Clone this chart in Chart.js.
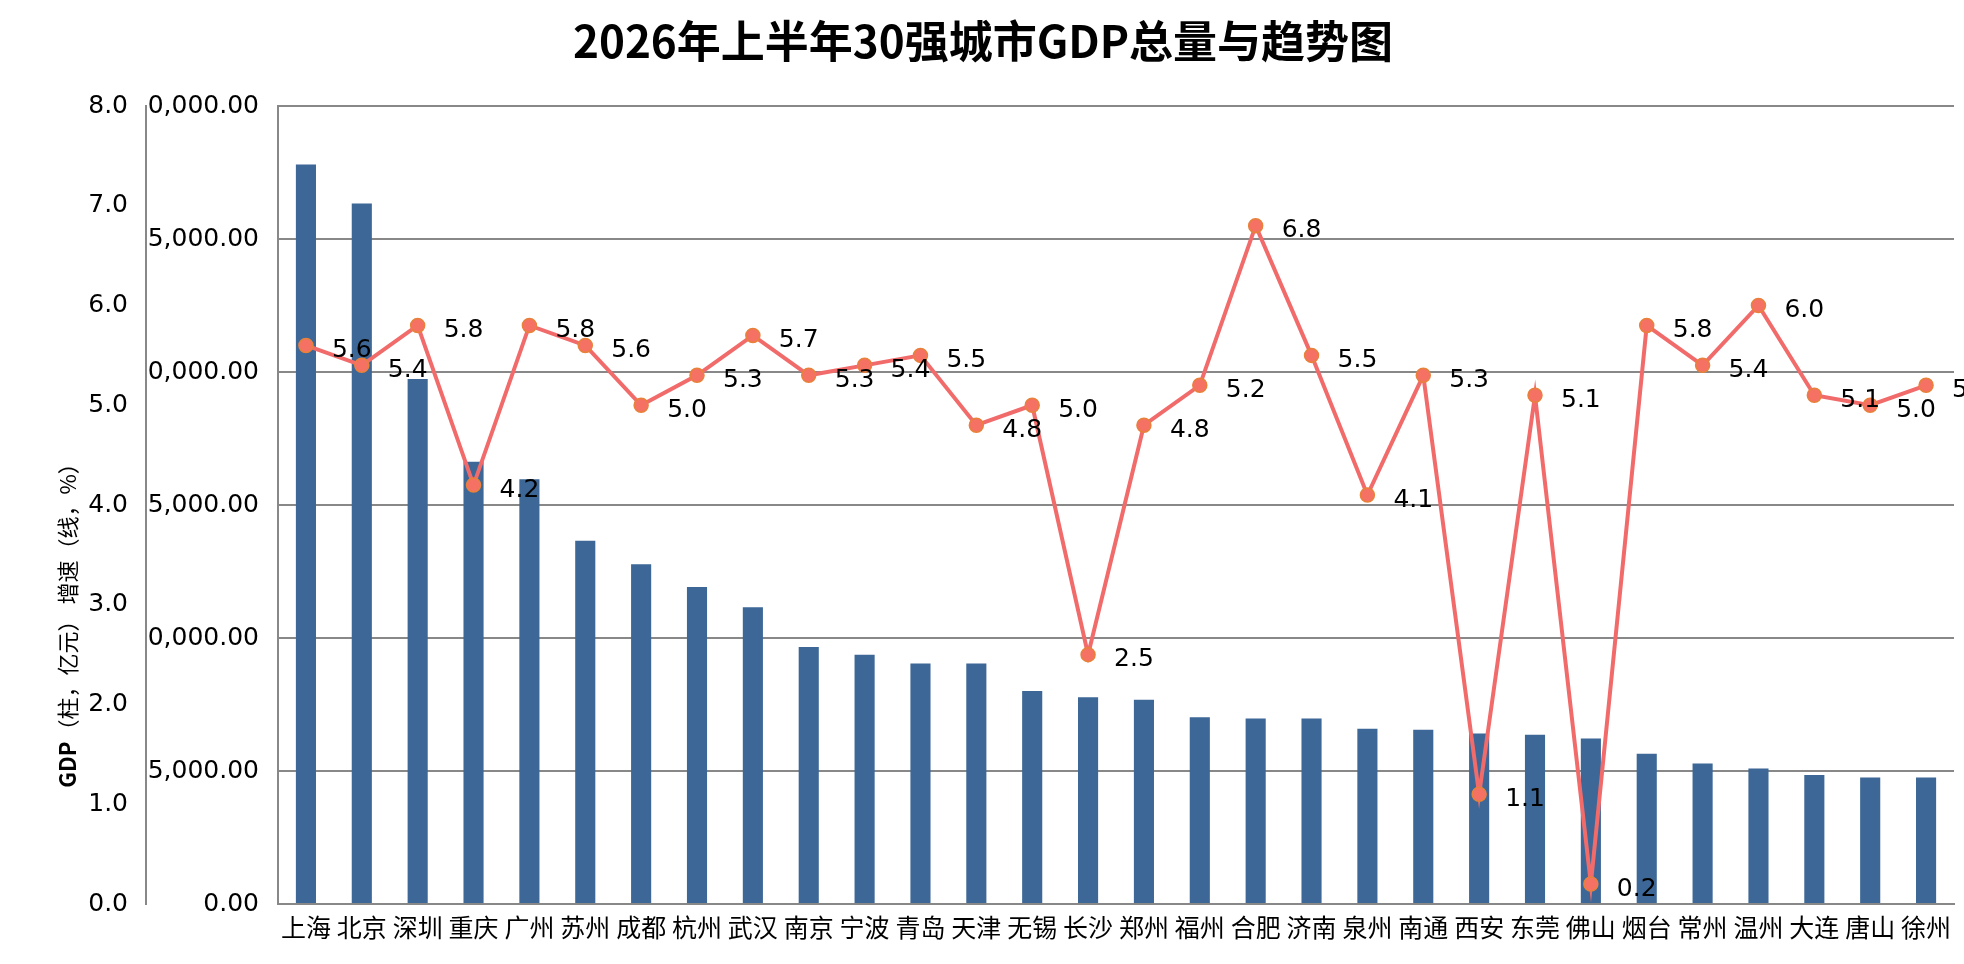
<!DOCTYPE html>
<html><head><meta charset="utf-8">
<script src="https://cdn.jsdelivr.net/npm/chart.js@4"></script>
<style>html,body{margin:0;padding:0;background:#fff}#wrap{width:1964px;height:964px}</style>
</head><body><div id="wrap"><canvas id="c"></canvas></div>
<script>
const cities=['上海','北京','深圳','重庆','广州','苏州','成都','杭州','武汉','南京','宁波','青岛','天津','无锡','长沙','郑州','福州','合肥','济南','泉州','南通','西安','东莞','佛山','烟台','常州','温州','大连','唐山','徐州'];
const gdp=[27800,26330,19740,16630,15970,13660,12770,11920,11160,9660,9370,9040,9040,8010,7770,7680,7020,6970,6970,6590,6550,6410,6360,6220,5650,5280,5090,4850,4760,4760];
const growth=[5.6,5.4,5.8,4.2,5.8,5.6,5.0,5.3,5.7,5.3,5.4,5.5,4.8,5.0,2.5,4.8,5.2,6.8,5.5,4.1,5.3,1.1,5.1,0.2,5.8,5.4,6.0,5.1,5.0,5.2];
const titleText='2026年上半年30强城市GDP总量与趋势图';
const axisTitleBold='GDP';
const axisTitleRest='（柱，亿元） 增速（线，%）';
const FONT='"DejaVu Sans", sans-serif';
const CJK='"Noto Sans CJK SC", sans-serif';
const extra={id:'extra',afterDraw(ch){
  const ctx=ch.ctx;ctx.save();
  ctx.fillStyle='#000';ctx.font='bold 44px '+CJK;ctx.textAlign='center';ctx.textBaseline='middle';
  ctx.fillText(titleText,983,41);
  ctx.translate(68,620);ctx.rotate(-Math.PI/2);
  ctx.font='bold 22px '+CJK;const w1=ctx.measureText(axisTitleBold).width;
  ctx.font='22px '+CJK;const w2=ctx.measureText(axisTitleRest).width;
  ctx.textAlign='left';let x0=-(w1+w2)/2;
  ctx.font='bold 22px '+CJK;ctx.fillText(axisTitleBold,x0,0);
  ctx.font='22px '+CJK;ctx.fillText(axisTitleRest,x0+w1,0);
  ctx.restore();
  ctx.save();ctx.font='25px '+FONT;ctx.fillStyle='#000';ctx.textAlign='left';ctx.textBaseline='middle';
  const m=ch.getDatasetMeta(0);
  m.data.forEach((p,i)=>ctx.fillText(growth[i].toFixed(1),p.x+26,p.y+5));
  ctx.restore();
}};
new Chart(document.getElementById('c'),{
  data:{labels:cities,datasets:[
    {type:'line',label:'增速',data:growth,yAxisID:'y1',borderColor:'#F26B6B',borderWidth:4,pointRadius:7,pointHoverRadius:7,pointBackgroundColor:'#F47164',pointBorderColor:'#E8813A',pointBorderWidth:1.5,tension:0,order:0},
    {type:'bar',label:'GDP',data:gdp,yAxisID:'y',backgroundColor:'#3C6796',barPercentage:0.36,categoryPercentage:1,order:1}
  ]},
  options:{responsive:true,maintainAspectRatio:false,animation:false,
    layout:{padding:{top:106,left:0,right:10,bottom:14}},
    plugins:{legend:{display:false},title:{display:false},tooltip:{enabled:false}},
    scales:{
      x:{grid:{display:false,drawTicks:false},border:{display:true,color:'#888',width:2},ticks:{color:'#000',font:{family:CJK,size:25},maxRotation:0,autoSkip:false,padding:8}},
      y:{position:'left',weight:0,min:0,max:30000,afterFit(s){s.width=132},ticks:{stepSize:5000,color:'#000',font:{family:FONT,size:25},padding:19,callback:v=>v.toLocaleString('en-US',{minimumFractionDigits:2,maximumFractionDigits:2})},grid:{color:'#888',lineWidth:2,drawTicks:false},border:{display:true,color:'#888',width:2}},
      y1:{position:'left',weight:1,min:0,max:8,afterFit(s){s.width=146},ticks:{stepSize:1,color:'#000',font:{family:FONT,size:25},padding:18,callback:v=>v.toFixed(1)},grid:{display:false,drawTicks:false},border:{display:true,color:'#888',width:2}}
    }
  },
  plugins:[extra]
});
</script></body></html>
